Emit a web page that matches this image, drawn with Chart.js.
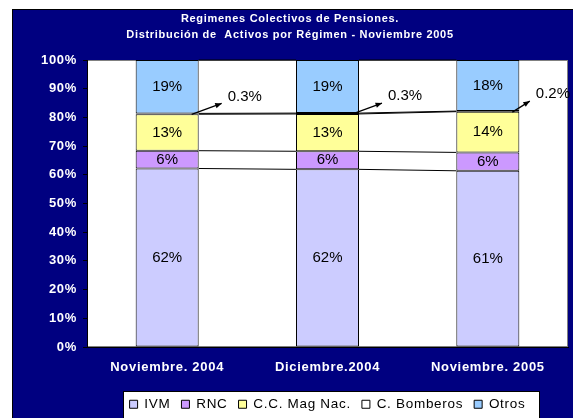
<!DOCTYPE html>
<html>
<head>
<meta charset="utf-8">
<script src="https://cdn.jsdelivr.net/npm/chart.js@4.4.0/dist/chart.umd.min.js"></script>
<style>
  html, body { margin: 0; padding: 0; background: #ffffff; overflow: hidden; width: 573px; height: 418px; }
  #marco { position: absolute; left: 12px; top: 9px; width: 586px; height: 430px; }
</style>
</head>
<body>
<div id="marco"><canvas id="grafico" width="586" height="430"></canvas></div>
<script>
// Datos (porcentaje de activos por regimen)
const categorias = ["Noviembre. 2004", "Diciembre.2004", "Noviembre. 2005"];
const titulo = ["Regimenes Colectivos de Pensiones.", "Distribución de  Activos por Régimen - Noviembre 2005"];
const valoresIVM = [62.2, 61.9, 61.4];
const valoresRNC = [6.2, 6.3, 6.4];
const valoresMagNac = [12.7, 13.0, 14.2];
const valoresBomberos = [0.3, 0.3, 0.2];
const valoresOtros = [18.6, 18.5, 17.8];
const marcasY = [0, 10, 20, 30, 40, 50, 60, 70, 80, 90, 100];

Chart.defaults.font.family = "Arial, 'Liberation Sans', sans-serif";
const ESPACIADO = "0.7px";

// Fondo azul, area de trazado blanca y caja de la leyenda
const fondoPlugin = {
  id: "fondo",
  beforeUpdate(chart) {
    chart.ctx.letterSpacing = ESPACIADO;
  },
  beforeDraw(chart) {
    const ctx = chart.ctx;
    const a = chart.chartArea;
    ctx.save();
    ctx.fillStyle = "#000080";
    ctx.fillRect(0, 0, chart.width, chart.height);
    ctx.strokeStyle = "#000000";
    ctx.lineWidth = 1;
    ctx.strokeRect(0.5, 0.5, chart.width - 1, chart.height - 1);
    ctx.fillStyle = "#ffffff";
    ctx.fillRect(a.left, a.top, a.right - a.left, a.bottom - a.top);
    ctx.strokeStyle = "#808080";
    ctx.strokeRect(a.left + 0.5, a.top + 0.5, a.right - a.left - 1, a.bottom - a.top - 1);

    const leyenda = chart.legend;
    const cajas = leyenda.legendHitBoxes;
    if (cajas && cajas.length) {
      const x0 = Math.round(cajas[0].left) - 7;
      const ultima = cajas[cajas.length - 1];
      const x1 = Math.round(ultima.left + ultima.width) + 14;
      const y0 = Math.round(leyenda.top) + 4;
      ctx.fillStyle = "#ffffff";
      ctx.fillRect(x0, y0, x1 - x0, chart.height);
      ctx.strokeStyle = "#000000";
      ctx.strokeRect(x0 + 0.5, y0 + 0.5, x1 - x0, chart.height);
    }
    ctx.restore();
    ctx.letterSpacing = ESPACIADO;
  }
};

// Lineas de serie entre columnas, etiquetas y flechas
const etiquetasPlugin = {
  id: "etiquetas",
  afterDatasetsDraw(chart) {
    const ctx = chart.ctx;
    const area = chart.chartArea;
    ctx.save();
    ctx.strokeStyle = "#000000";
    ctx.lineWidth = 1;
    chart.data.datasets.forEach((ds, di) => {
      const barras = chart.getDatasetMeta(di).data;
      for (let i = 0; i < barras.length - 1; i++) {
        const b = barras[i];
        const n = barras[i + 1];
        ctx.beginPath();
        ctx.moveTo(b.x + b.width / 2, b.y);
        ctx.lineTo(n.x - n.width / 2, n.y);
        ctx.stroke();
      }
    });

    ctx.letterSpacing = "0px";
    ctx.font = "15px Arial, 'Liberation Sans', sans-serif";
    ctx.fillStyle = "#000000";
    ctx.textBaseline = "middle";
    chart.data.datasets.forEach((ds, di) => {
      const barras = chart.getDatasetMeta(di).data;
      barras.forEach((b, i) => {
        const v = ds.data[i];
        if (ds.label === "C. Bomberos") {
          const texto = v.toFixed(1) + "%";
          const ancho = ctx.measureText(texto).width;
          const derecha = b.x + b.width / 2;
          const lx = Math.min(derecha + 29, area.right - ancho + 2);
          const ly = b.y - 17;
          const x0 = derecha - 7, y0 = b.y + 1;
          const x1 = lx - 6, y1 = ly + 7;
          ctx.beginPath();
          ctx.moveTo(x0, y0);
          ctx.lineTo(x1, y1);
          ctx.lineWidth = 1.3;
          ctx.stroke();
          const ang = Math.atan2(y1 - y0, x1 - x0);
          ctx.beginPath();
          ctx.moveTo(x1, y1);
          ctx.lineTo(x1 - 7 * Math.cos(ang - 0.4), y1 - 7 * Math.sin(ang - 0.4));
          ctx.lineTo(x1 - 7 * Math.cos(ang + 0.4), y1 - 7 * Math.sin(ang + 0.4));
          ctx.closePath();
          ctx.fill();
          ctx.textAlign = "left";
          ctx.fillText(texto, lx, ly);
        } else {
          ctx.textAlign = "center";
          ctx.fillText(Math.round(v) + "%", b.x, (b.y + b.base) / 2);
        }
      });
    });
    ctx.restore();
    ctx.letterSpacing = ESPACIADO;
  }
};

function serie(nombre, datos, color) {
  return {
    label: nombre,
    data: datos,
    backgroundColor: color,
    borderColor: "#000000",
    borderWidth: 1,
    borderSkipped: false,
    categoryPercentage: 1,
    barPercentage: 0.393
  };
}

const ctx = document.getElementById("grafico").getContext("2d");
window.graficoRegimenes = new Chart(ctx, {
  type: "bar",
  data: {
    labels: categorias,
    datasets: [
      serie("IVM", valoresIVM, "#ccccff"),
      serie("RNC", valoresRNC, "#cc99ff"),
      serie("C.C. Mag Nac.", valoresMagNac, "#ffff99"),
      serie("C. Bomberos", valoresBomberos, "#ffffff"),
      serie("Otros", valoresOtros, "#99ccff")
    ]
  },
  options: {
    responsive: false,
    animation: false,
    devicePixelRatio: 1,
    layout: {
      padding: { left: 0, right: 30, top: 0, bottom: 18 }
    },
    plugins: {
      title: {
        display: true,
        text: titulo,
        color: "#ffffff",
        font: { size: 11, weight: "bold", lineHeight: "16px" },
        padding: { top: 2, bottom: 17 }
      },
      legend: {
        position: "bottom",
        fullSize: false,
        labels: {
          color: "#000000",
          font: { size: 13.5 },
          boxWidth: 8,
          boxHeight: 8,
          padding: 11
        }
      },
      tooltip: { enabled: false }
    },
    scales: {
      x: {
        stacked: true,
        grid: { display: false },
        border: { display: true, color: "#000000", width: 1 },
        ticks: {
          color: "#ffffff",
          font: { size: 13, weight: "bold" },
          padding: 5,
          maxRotation: 0
        },
        afterFit(scale) {
          scale.height = 39.5;
        }
      },
      y: {
        stacked: true,
        min: 0,
        max: 100,
        afterBuildTicks(scale) {
          scale.ticks = marcasY.map(v => ({ value: v }));
        },
        grid: {
          drawOnChartArea: false,
          drawTicks: true,
          tickLength: 4,
          color: "#000000"
        },
        border: { display: true, color: "#000000", width: 1 },
        ticks: {
          color: "#ffffff",
          font: { size: 13, weight: "bold" },
          padding: 6,
          callback: v => v + "%"
        },
        afterFit(scale) {
          scale.width = 75;
        }
      }
    }
  },
  plugins: [fondoPlugin, etiquetasPlugin]
});
</script>
</body>
</html>
